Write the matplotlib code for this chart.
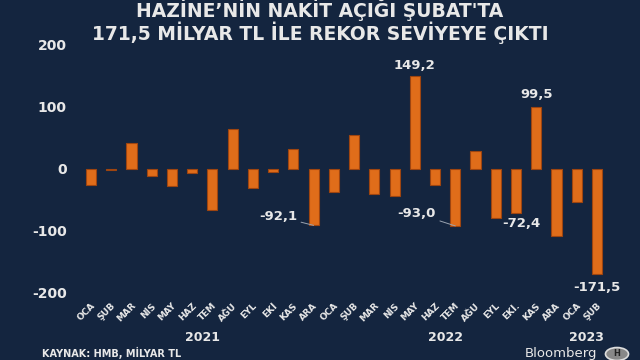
import matplotlib
matplotlib.use("Agg")
import matplotlib.pyplot as plt
from matplotlib.patches import Circle

months = ["OCA", "ŞUB", "MAR", "NİS", "MAY", "HAZ", "TEM", "AĞU", "EYL", "EKİ", "KAS", "ARA",
          "OCA", "ŞUB", "MAR", "NİS", "MAY", "HAZ", "TEM", "AĞU", "EYL", "EKİ.", "KAS", "ARA",
          "OCA", "ŞUB"]
values = [-26, -3, 41, -12, -29, -7, -68, 64, -32, -5, 31, -92.1,
          -38, 54.5, -41.5, -44, 149.2, -27, -93.0, 28, -80.5, -72.4, 99.5, -109,
          -55, -171.5]
years = ["2021", "2022", "2023"]
year_centers = [5.5, 17.5, 24.5]
yticks = [-200, -100, 0, 100, 200]

BG = "#14253F"
ORANGE = "#E06D1A"
EDGE = "#9E4510"
TXT = "#E8E8E8"

fig = plt.figure(figsize=(6.4, 3.6), dpi=100, facecolor=BG)
ax = fig.add_axes([75/640, 1-292/360, 540/640, (292-45)/360])
ax.set_facecolor(BG)
x = list(range(len(values)))
ax.bar(x, values, width=0.5, color=ORANGE, edgecolor=EDGE, linewidth=0.8, zorder=3)
ax.set_xlim(-0.79, 25.89)
ax.set_ylim(-200, 200)
for s in ax.spines.values():
    s.set_visible(False)
ax.set_yticks(yticks)
ax.set_yticklabels([str(t) for t in yticks], fontsize=10, fontweight="bold", color=TXT)
ax.tick_params(axis="y", length=0, pad=6)
ax.set_xticks([])

# month labels
for xi, m in zip(x, months):
    ax.annotate(m, xy=(xi, -200), xycoords="data", xytext=(2, -9), textcoords="offset points",
                rotation=45, rotation_mode="anchor", ha="right", va="center",
                fontsize=6.5, fontweight="bold", color=TXT, annotation_clip=False)
for yc, yr in zip(year_centers, years):
    ax.annotate(yr, xy=(yc, -200), xytext=(0, -33), textcoords="offset points",
                ha="center", va="center", fontsize=9, fontweight="bold", color=TXT,
                annotation_clip=False)

# value labels
lab_kw = dict(fontsize=9.5, fontweight="bold", color=TXT)
ax.annotate("149,2", xy=(16, 149.2), xytext=(0, 8), textcoords="offset points", ha="center", va="center", **lab_kw)
ax.annotate("99,5", xy=(22, 99.5), xytext=(0, 9), textcoords="offset points", ha="center", va="center", **lab_kw)
ax.annotate("-72,4", xy=(21, -72.4), xytext=(3.5, -7.5), textcoords="offset points", ha="center", va="center", **lab_kw)
ax.annotate("-171,5", xy=(25, -171.5), xytext=(0, -9.5), textcoords="offset points", ha="center", va="center", **lab_kw, annotation_clip=False)
ax.annotate("-92,1", xy=(11, -92.1), xytext=(-12, 6.5), textcoords="offset points", ha="right", va="center",
            arrowprops=dict(arrowstyle="-", color="#9AA3B0", lw=0.7, shrinkA=1, shrinkB=0), **lab_kw)
ax.annotate("-93,0", xy=(18, -93.0), xytext=(-14, 9), textcoords="offset points", ha="right", va="center",
            arrowprops=dict(arrowstyle="-", color="#9AA3B0", lw=0.7, shrinkA=1, shrinkB=0), **lab_kw)

# title
fig.text(0.5, 1-10/360, "HAZİNE’NİN NAKİT AÇIĞI ŞUBAT'TA", ha="center", va="center",
         fontsize=13.5, fontweight="bold", color=TXT)
fig.text(0.5, 1-33/360, "171,5 MİLYAR TL İLE REKOR SEVİYEYE ÇIKTI", ha="center", va="center",
         fontsize=13.5, fontweight="bold", color=TXT)

fig.text(42/640, 1-353/360, "KAYNAK: HMB, MİLYAR TL", ha="left", va="center",
         fontsize=7, fontweight="bold", color=TXT)
fig.text(597/640, 1-354/360, "Bloomberg", ha="right", va="center", fontsize=9.5, color=TXT)
logo = Circle((617/640, 1-354/360), 0.018, transform=fig.transFigure, facecolor="#888888",
              edgecolor="#DDDDDD", lw=1.2)
fig.patches.append(logo)
fig.text(617/640, 1-354/360, "H", ha="center", va="center", fontsize=6, fontweight="bold", color="#222222")

fig.savefig("out.png", dpi=100, facecolor=BG)
